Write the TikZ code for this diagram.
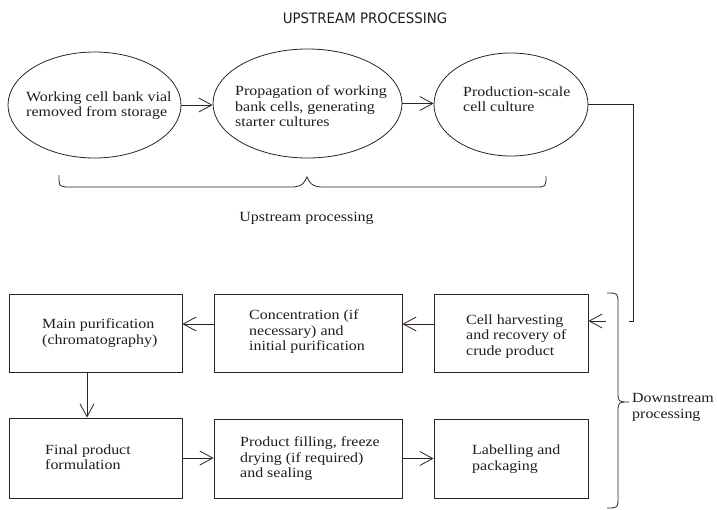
\documentclass[tikz,border=0pt]{standalone}
\usepackage{fontspec}
\setmainfont{Liberation Serif}[FakeStretch=1.14]
\newfontfamily\titlefont{DejaVu Sans}[FakeStretch=0.93]
\usetikzlibrary{arrows.meta,shapes.geometric}
\definecolor{lc}{RGB}{45,35,35}
\definecolor{tx}{RGB}{30,30,30}
\begin{document}
\begin{tikzpicture}[x=1pt,y=-1pt,
  ell/.style={draw=lc, line width=0.8pt, ellipse, inner sep=0pt},
  box/.style={draw=lc, line width=0.8pt, rectangle, inner sep=0pt},
  txt/.style={anchor=north west, inner sep=0pt, align=left, text=tx, font=\fontsize{14}{15.5}\selectfont},
  arr/.style={draw=lc, line width=0.8pt, -{Straight Barb[length=13pt,width=14pt,line width=0.8pt]}},
  conn/.style={draw=lc, line width=0.8pt}]
\useasboundingbox (0,0) rectangle (717,509);
\fill[white] (0,0) rectangle (717,509);

\node[font=\titlefont\fontsize{14.4}{16}\selectfont, text=tx] (title) at (365,18) {UPSTREAM PROCESSING};

% ellipses
\node[ell, minimum width=173pt, minimum height=106pt] (e1) at (94.5,105) {};
\node[ell, minimum width=189pt, minimum height=109pt] (e2) at (307.5,103.5) {};
\node[ell, minimum width=154pt, minimum height=103pt] (e3) at (511,104.5) {};
\node[txt] (t1) at (26,91.5) {Working cell bank vial\\removed from storage};
\node[txt] (t2) at (235,85.5) {Propagation of working\\bank cells, generating\\starter cultures};
\node[txt] (t3) at (463,86.5) {Production-scale\\cell culture};

% boxes
\node[box, minimum width=173pt, minimum height=78pt] (a) at (95.5,333) {};
\node[box, minimum width=188pt, minimum height=78pt] (b) at (308,333) {};
\node[box, minimum width=154pt, minimum height=78pt] (c) at (511,333) {};
\node[box, minimum width=173pt, minimum height=80pt] (d) at (95.5,458) {};
\node[box, minimum width=188pt, minimum height=79pt] (e) at (308,458.5) {};
\node[box, minimum width=154pt, minimum height=79pt] (f) at (511,458.5) {};
\node[txt] (ta) at (42,318.5) {Main purification\\(chromatography)};
\node[txt] (tb) at (249,309.5) {Concentration (if\\necessary) and\\initial purification};
\node[txt] (tc) at (466,314.5) {Cell harvesting\\and recovery of\\crude product};
\node[txt] (td) at (45,444.5) {Final product\\formulation};
\node[txt] (te) at (240,436.5) {Product filling, freeze\\drying (if required)\\and sealing};
\node[txt] (tf) at (472,445) {Labelling and\\packaging};

% labels
\node[txt, anchor=center] (up) at (306.5,218) {Upstream processing};
\node[txt] (down) at (632,393.5) {Downstream\\processing};

% connectors
\draw[arr] (e1.east) -- (e2.west |- e1.east);
\draw[arr] (e2.east) -- (e3.west |- e2.east);
\coordinate (corner) at (633,321);
\coordinate (stub) at (629,321);
\coordinate (tail) at (606,321);
\draw[conn] (e3.east) -| (corner) -- (stub);
\draw[arr] (tail) -- ([yshift=12pt]c.east);
\draw[arr] ([yshift=9pt]c.west) -- ([yshift=9pt]b.east);
\draw[arr] ([yshift=9pt]b.west) -- ([yshift=9pt]a.east);
\draw[arr] ([xshift=-8.5pt]a.south) -- ([xshift=-8.5pt]d.north);
\draw[arr] (d.east) -- (e.west |- d.east);
\draw[arr] (e.east) -- (f.west);

% braces
\draw[conn] (59,175) .. controls (59,187) .. (70,187) -- (292,187)
  .. controls (302,187) and (305,182) .. (307,177)
  .. controls (309,182) and (312,187) .. (322,187) -- (535,187)
  .. controls (546,187) .. (546,176);
\draw[conn] (607,293) .. controls (618,293) .. (618,304) -- (618,391)
  .. controls (618,402) .. (629,402) .. controls (618,402) .. (618,413)
  -- (618,497) .. controls (618,508) .. (607,508);
\end{tikzpicture}
\end{document}
